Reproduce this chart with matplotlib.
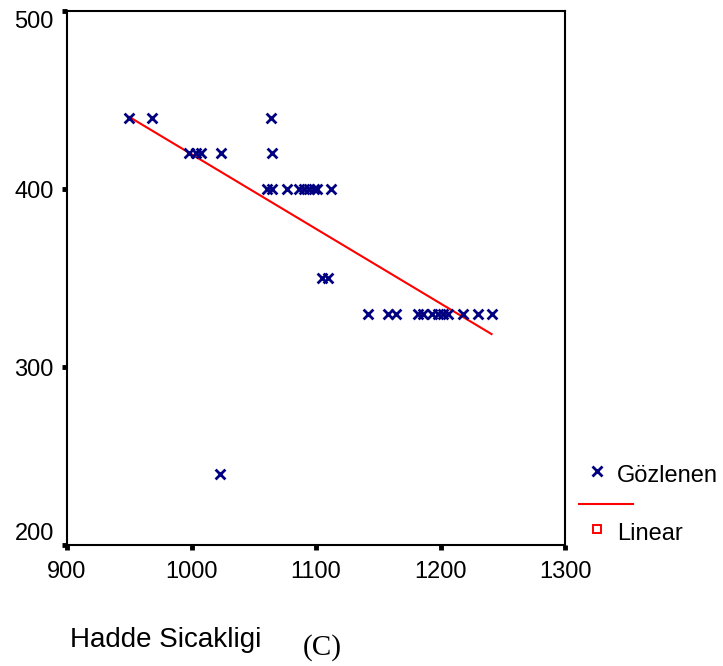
"""Scatter of Hadde Sicakligi with linear fit, SPSS-style."""

import matplotlib
matplotlib.use("Agg")
import matplotlib.pyplot as plt
from matplotlib.lines import Line2D

# observed points (Gözlenen)
obs_x = [950, 968, 1064,
         998, 1004, 1008, 1024, 1065,
         1061, 1065, 1077, 1086, 1090, 1094, 1098, 1101, 1112,
         1105, 1110,
         1142, 1158, 1164, 1182, 1186, 1193, 1198, 1202, 1206, 1218, 1230, 1241,
         1023]
obs_y = [440, 440, 440,
         420, 420, 420, 420, 420,
         400, 400, 400, 400, 400, 400, 400, 400, 400,
         350, 350,
         330, 330, 330, 330, 330, 330, 330, 330, 330, 330, 330, 330,
         240]

# linear fit line
fit_x = [950, 1241]
fit_y = [440.5, 318.5]

x_ticks = [900, 1000, 1100, 1200, 1300]
y_ticks = [200, 300, 400, 500]

plt.rcParams["font.family"] = ["Liberation Sans", "DejaVu Sans"]

fig = plt.figure(figsize=(7.23, 6.66), dpi=100)
W, H = 723, 666
left, right, top, bottom = 67, 565, 11, 545
ax = fig.add_axes([left / W, 1 - bottom / H, (right - left) / W, (bottom - top) / H])

navy = "#000080"
red = "#ff0000"

ax.plot(fit_x, fit_y, color=red, linewidth=1.5, zorder=2)
ax.scatter(obs_x, obs_y, marker="x", s=50, color=navy, linewidths=2, zorder=3)

ax.set_xlim(900, 1300)
ax.set_ylim(200, 500)
ax.set_xticks(x_ticks)
ax.set_yticks(y_ticks)
ax.tick_params(direction="out", length=3.5, width=3.5, labelsize=17, pad=6, color="black")
ax.tick_params(axis="x", pad=8)
for sp in ax.spines.values():
    sp.set_linewidth(1.5)

# end labels on the y axis sit inside the tick range, as in the original
ylabels = ax.get_yticklabels()
ylabels[0].set_va("bottom")
ylabels[-1].set_va("top")

# legend drawn by hand, outside the frame
fig.add_artist(Line2D([597 / W], [1 - 471 / H], marker="x", color=navy,
                      markersize=6.5, markeredgewidth=2, transform=fig.transFigure))
fig.text(617 / W, 1 - 476 / H, "Gözlenen", fontsize=17, va="center", ha="left")
fig.add_artist(Line2D([579 / W, 633 / W], [1 - 504 / H, 1 - 504 / H], color=red,
                      linewidth=1.5, transform=fig.transFigure))
fig.add_artist(Line2D([597 / W], [1 - 529 / H], marker="s", color=red,
                      markerfacecolor="white", markersize=5.5, markeredgewidth=1.4,
                      transform=fig.transFigure))
fig.text(617 / W, 1 - 534 / H, "Linear", fontsize=17, va="center", ha="left")

# axis title
fig.text(70 / W, 1 - 640 / H, "Hadde Sicakligi", fontsize=20, va="center", ha="left")
fig.text(303 / W, 1 - 648 / H, "(C)", fontsize=21, va="center", ha="left",
         family="Liberation Serif")

fig.savefig("out.png", dpi=100)
